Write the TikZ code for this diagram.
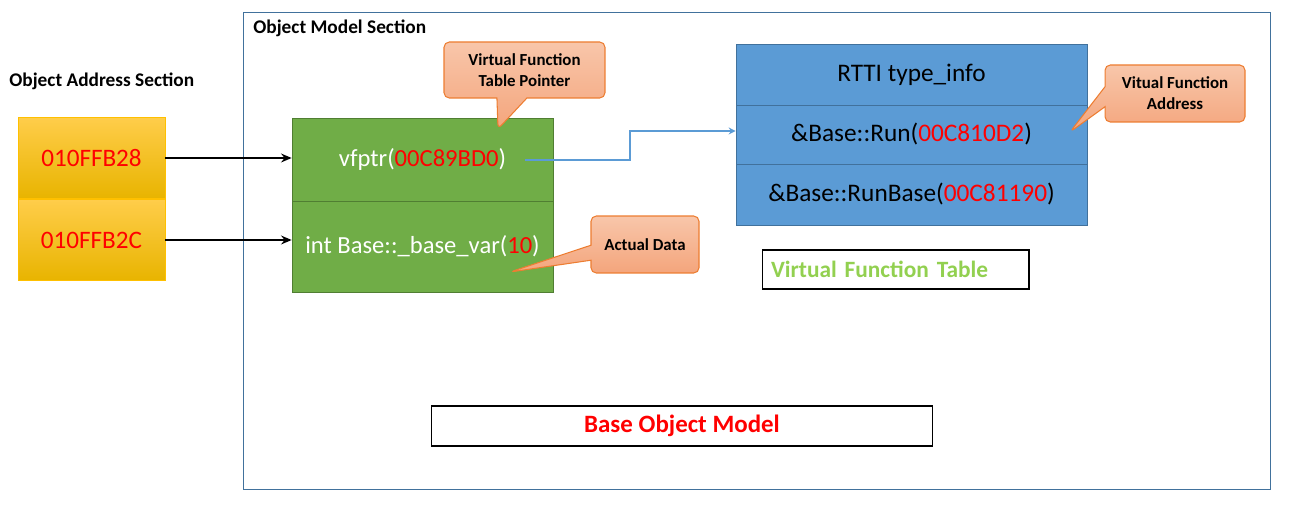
\documentclass[tikz,border=0pt]{standalone}
\usepackage{fontspec}
\setmainfont{Carlito}
\usetikzlibrary{arrows.meta,shapes.callouts}
\definecolor{frameblue}{HTML}{41719C}
\definecolor{addrtop}{HTML}{FFCD4A}
\definecolor{addrbot}{HTML}{E8B400}
\definecolor{addredge}{HTML}{FFC000}
\definecolor{objfill}{HTML}{70AD47}
\definecolor{objedge}{HTML}{507E32}
\definecolor{vtfill}{HTML}{5B9BD5}
\definecolor{vtedge}{HTML}{41719C}
\definecolor{notetop}{HTML}{F8C6AA}
\definecolor{notebot}{HTML}{F4A57C}
\definecolor{noteedge}{HTML}{ED7D31}
\definecolor{tablegreen}{HTML}{92D050}
\tikzset{
  title/.style={font=\bfseries\fontsize{11}{13}\selectfont, inner sep=0pt},
  addrbox/.style={draw=addredge, top color=addrtop, bottom color=addrbot, text=red,
    minimum width=2.94cm, minimum height=1.62cm, inner sep=0pt,
    font=\fontsize{14.3}{16}\selectfont},
  objbox/.style={draw=objedge, fill=objfill, text=white, minimum width=5.22cm,
    inner sep=0pt, font=\fontsize{14}{16}\selectfont},
  vtbox/.style={draw=vtedge, fill=vtfill, text=black, minimum width=7.02cm,
    inner sep=0pt, font=\fontsize{14.4}{16}\selectfont},
  labelbox/.style={draw=black, line width=0.6pt, inner sep=0pt, font=\bfseries},
  note/.style={rectangle callout, rounded corners=3pt, draw=noteedge, line width=0.6pt,
    top color=notetop, bottom color=notebot, align=center, inner sep=0pt,
    font=\bfseries\fontsize{9.6}{12}\selectfont},
  ptr/.style={-{Stealth[length=6pt,width=5pt]}, line width=1pt},
  link/.style={-{Stealth[length=4pt,width=4pt]}, draw=vtfill, line width=0.7pt}
}
\begin{document}
\begin{tikzpicture}[x=0.02cm, y=-0.02cm]
\useasboundingbox (0,0) rectangle (1300,526);
% sections
\draw[frameblue, line width=0.45pt] (243,12) rectangle (1270,489);
\node[title, anchor=west] (objsec) at (253,28) {Object Model Section};
\node[title, anchor=west] (addrsec) at (9,81) {Object Address Section};
% addresses
\node[addrbox] (addr0) at (91.5,158) {010FFB28};
\node[addrbox] (addr1) at (91.5,240) {010FFB2C};
% object
\node[objbox, minimum height=1.66cm] (obj0) at (422.5,159.5) {vfptr(\textcolor{red}{00C89BD0})};
\node[objbox, minimum height=1.82cm] (obj1) at (422.5,246.5) {int Base::\_base\_var(\textcolor{red}{10})};
\draw[ptr] (addr0.east) -- (addr0.east -| obj0.west);
\draw[ptr] (addr1.east) -- (addr1.east -| obj1.west);
% vtable
\node[vtbox, minimum height=1.22cm] (vt0) at (911.5,74.5) {RTTI type\_info};
\node[vtbox, minimum height=1.18cm] (vt1) at (911.5,134.5) {\&Base::Run(\textcolor{red}{00C810D2})};
\node[vtbox, minimum height=1.22cm] (vt2) at (911.5,194.5) {\&Base::RunBase(\textcolor{red}{00C81190})};
\coordinate (vfp) at (525,160);
\draw[link] (vfp) -- (630,160) |- ([yshift=0.07cm]vt1.west);
% labels
\node[labelbox, minimum height=0.78cm, text width=4.98cm, inner xsep=0.18cm, align=left,
  text=tablegreen, font=\bfseries\fontsize{13.3}{15}\selectfont] (vtname) at (895.5,269.5) {Virtual Function Table};
\node[labelbox, minimum width=10.04cm, minimum height=0.8cm, text=red,
  font=\bfseries\fontsize{14.2}{16}\selectfont] (objname) at (682,426) {Base Object Model};
% notes
\node[note, minimum width=3.22cm, minimum height=1.12cm, callout absolute pointer={(498,129)},
  callout pointer width=0.6cm] (note0) at (524.5,70) {Virtual Function\\Table Pointer};
\node[note, minimum width=2.16cm, minimum height=1.14cm, callout absolute pointer={(510,272)},
  callout pointer width=0.3cm] (note1) at (645,244.5) {Actual Data};
\node[note, minimum width=2.8cm, minimum height=1.14cm, callout absolute pointer={(1070,132)},
  callout pointer width=0.4cm] (note2) at (1175,93.5) {Vitual Function\\Address};
\end{tikzpicture}
\end{document}
